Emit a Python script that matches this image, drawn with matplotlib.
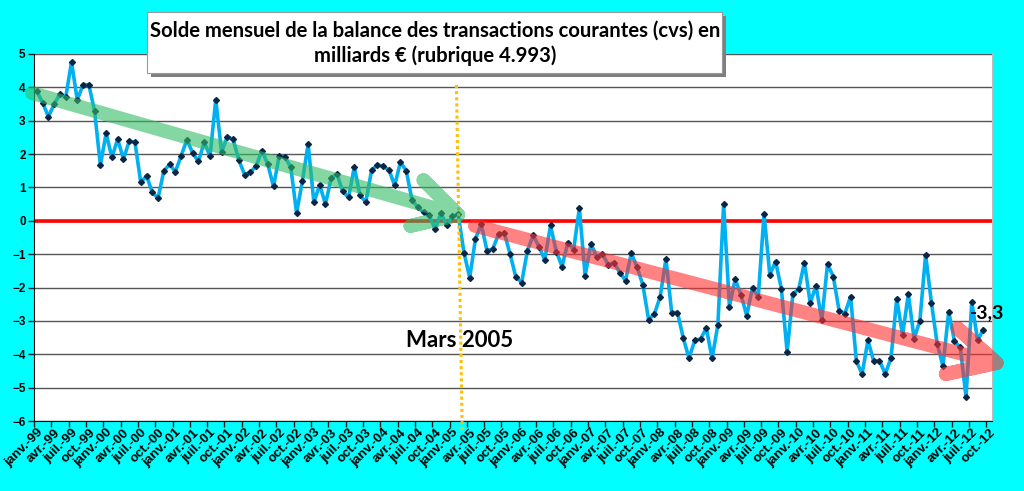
import matplotlib
matplotlib.use("Agg")
import matplotlib.pyplot as plt
import numpy as np
from matplotlib.patches import Rectangle

# solde mensuel, janv. 1999 -> sept. 2012 (milliards EUR)
values = [
    3.88, 3.54, 3.12, 3.50, 3.80, 3.71, 4.76, 3.62, 4.08, 4.08, 3.29, 1.67,
    2.62, 1.90, 2.45, 1.85, 2.39, 2.35, 1.15, 1.35, 0.85, 0.68, 1.50, 1.69,
    1.47, 1.95, 2.43, 2.03, 1.78, 2.36, 1.93, 3.63, 2.06, 2.52, 2.44, 1.82,
    1.38, 1.45, 1.65, 2.10, 1.70, 1.03, 1.95, 1.91, 1.60, 0.24, 1.18, 2.30,
    0.55, 1.08, 0.50, 1.28, 1.40, 0.88, 0.70, 1.61, 0.76, 0.56, 1.52, 1.68,
    1.63, 1.53, 1.06, 1.76, 1.50, 0.63, 0.40, 0.25, 0.16, -0.25, 0.23, -0.12,
    0.13, 0.20, -0.95, -1.70, -0.54, -0.10, -0.90, -0.84, -0.40, -0.37, -1.00, -1.69,
    -1.85, -0.89, -0.44, -0.77, -1.17, -0.14, -0.92, -1.37, -0.65, -0.87, 0.38, -1.65,
    -0.69, -1.07, -0.99, -1.32, -1.25, -1.55, -1.79, -0.97, -1.39, -1.92, -2.96, -2.79,
    -2.28, -1.14, -2.75, -2.75, -3.51, -4.12, -3.58, -3.54, -3.22, -4.12, -3.12, 0.49,
    -2.57, -1.75, -2.22, -2.84, -2.00, -2.28, 0.21, -1.62, -1.22, -2.03, -3.93, -2.19,
    -2.05, -1.25, -2.47, -1.94, -2.97, -1.30, -1.67, -2.69, -2.78, -2.27, -4.21, -4.59,
    -3.58, -4.21, -4.19, -4.59, -4.11, -2.33, -3.43, -2.19, -3.53, -3.00, -1.02, -2.45,
    -3.68, -4.36, -2.72, -3.61, -3.79, -5.28, -2.43, -3.58, -3.26,
]
n_months = 166  # janv.-99 .. oct.-12
month_abbr = ["janv.", "avr.", "juil.", "oct."]
years = list(range(99, 100)) + list(range(0, 13))
last_label = "-3,3"
mars_label = "Mars 2005"
mars_idx = 73
title = "Solde mensuel de la balance des transactions courantes (cvs) en\nmilliards € (rubrique 4.993)"

# trend arrows (data coords: month index, value)
green_start, green_tip = (-0.85, 3.83), (73.0, 0.18)
red_start, red_tip = (75.9, -0.15), (166.3, -4.26)

tick_labels = []
for y in years:
    for m in month_abbr:
        tick_labels.append("%s-%02d" % (m, y))
tick_labels = tick_labels[:len(range(0, n_months, 3))]

W, H = 1024, 491
fig = plt.figure(figsize=(W / 100, H / 100), dpi=100, facecolor="#00FFFF")
ax = fig.add_axes([34 / W, 1 - 421 / H, (992 - 34) / W, (421 - 54) / H])
ax.set_facecolor("white")

x = np.arange(len(values))
ax.set_xlim(-0.5, n_months - 0.5)
ax.set_ylim(-6, 5)
ax.set_yticks(range(-6, 6))
ax.yaxis.grid(True, color="#555555", lw=1)
ax.set_axisbelow(True)

# tick marks between categories, labels on categories
ax.set_xticks(np.arange(0, n_months, 3) - 0.5)
ax.set_xticklabels([])
ax.set_xticks(np.arange(0, n_months, 3), minor=True)
ax.set_xticklabels(tick_labels, minor=True, rotation=45, ha="right", va="top",
                   rotation_mode="anchor", fontsize=9.5, fontweight="bold",
                   family="Liberation Sans")
ax.tick_params(axis="x", which="minor", length=0, pad=4)
ax.tick_params(axis="x", which="major", length=4, width=1, color="#222222")
ax.tick_params(axis="y", length=4, width=1, color="#222222", pad=2)
for lab in ax.get_yticklabels():
    lab.set_fontweight("bold")
    lab.set_fontsize(8.5)
    lab.set_family("Liberation Sans")

ax.spines["top"].set_visible(False)
ax.spines["right"].set_color("#bbbbbb")
ax.spines["left"].set_color("#111111")
ax.spines["bottom"].set_color("#111111")

ax.axhline(0, color="#FF0000", lw=2.6, zorder=2)
ax.plot(x, values, color="#00B0F0", lw=2.6, marker="D", ms=3,
        mfc="#0b2545", mec="#0b2545", zorder=3)

# dotted vertical line at mars 2005 (slightly slanted, as drawn)
ax.plot([mars_idx - 0.3, mars_idx + 0.7], [4.07, -6.27], color="#FFC000",
        lw=2.2, ls=(0, (1, 1)), clip_on=False, zorder=4)


def draw_arrow(start, tip, color, alpha, lw, head_len, ang_deg):
    T = ax.transData
    p0 = T.transform(start)
    pt = T.transform(tip)
    d = (p0 - pt) / np.linalg.norm(p0 - pt)
    pts = [p0, pt]
    for a in (np.radians(ang_deg), -np.radians(ang_deg)):
        r = np.array([[np.cos(a), -np.sin(a)], [np.sin(a), np.cos(a)]])
        pts += [pt + r @ d * head_len, pt]
    pts = T.inverted().transform(np.array(pts))
    ax.plot(pts[:, 0], pts[:, 1], color=color, alpha=alpha, lw=lw,
            solid_capstyle="round", solid_joinstyle="round",
            clip_on=False, zorder=5)


draw_arrow(green_start, green_tip, "#33bb66", 0.6, 10, 49, 29)
draw_arrow(red_start, red_tip, "#ff3030", 0.6, 10, 52, 27)

ax.text(mars_idx + 0.3, -3.59, mars_label, ha="center", va="center",
        fontsize=16, fontweight="bold", family="Lato", zorder=6)
ax.text(x[-1] + 0.6, -2.75, last_label, ha="center", va="center",
        fontsize=14, fontweight="bold", family="Lato", clip_on=False, zorder=6)

# title box with shadow
fig.patches.append(Rectangle((151 / W, 1 - 77 / H), 575 / W, 61 / H,
                             transform=fig.transFigure, facecolor="#7f7f7f",
                             edgecolor="none", zorder=1))
fig.patches.append(Rectangle((147 / W, 1 - 73 / H), 575 / W, 61 / H,
                             transform=fig.transFigure, facecolor="white",
                             edgecolor="#999999", lw=0.8, zorder=2))
fig.text(435 / W, 1 - 43 / H, title, ha="center", va="center", fontsize=14.6,
         fontweight="bold", family="Lato", linespacing=1.3, zorder=3)

fig.savefig("out.png", dpi=100, facecolor=fig.get_facecolor())
